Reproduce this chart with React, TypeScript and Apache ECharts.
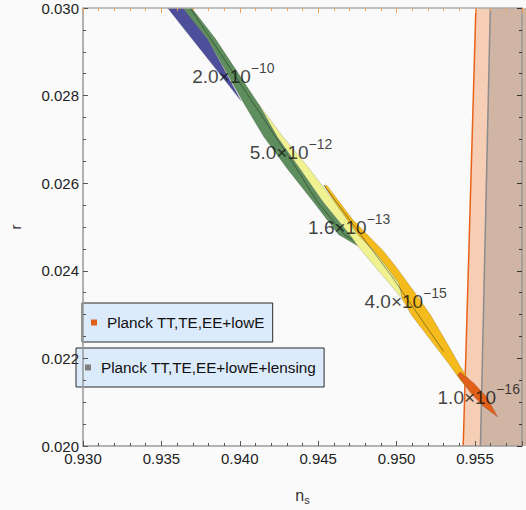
import React, { useEffect, useRef } from 'react';
import * as echarts from 'echarts';

type Pt = [number, number];

// Axis ranges
const NS_MIN = 0.93;
const NS_MAX = 0.958;
const NS_TICK = 0.005;
const NS_MINOR = 0.001;
const R_MIN = 0.02;
const R_MAX = 0.03;
const R_TICK = 0.002;

// Contour regions (n_s, r)
const blueRegion: Pt[] = [
  [0.93515, 0.03011], [0.94008, 0.02788], [0.93795, 0.02929], [0.93614, 0.03011],
];
const greenRegion: Pt[] = [
  [0.93614, 0.03011], [0.93795, 0.02929], [0.94029, 0.0278], [0.94153, 0.02706], [0.94305, 0.02632],
  [0.9447, 0.02557], [0.94629, 0.02483], [0.94751, 0.02457],
  [0.947, 0.02483], [0.94531, 0.02557], [0.94385, 0.02632], [0.94238, 0.02706], [0.94121, 0.0278],
  [0.93846, 0.02929], [0.9367, 0.03011],
];
const yellowRegion: Pt[] = [
  [0.94121, 0.0278], [0.94238, 0.02706], [0.94385, 0.02632], [0.94531, 0.02557], [0.947, 0.02483],
  [0.94751, 0.02457], [0.94861, 0.0241], [0.94952, 0.02372], [0.95037, 0.02335],
  [0.95013, 0.02372], [0.94934, 0.0241], [0.94853, 0.02446], [0.94751, 0.02483], [0.94604, 0.02557],
  [0.94446, 0.02632], [0.94275, 0.02706],
];
const goldRegion: Pt[] = [
  [0.94537, 0.02595], [0.94604, 0.02557], [0.94751, 0.02483], [0.94853, 0.02446], [0.94934, 0.0241],
  [0.95013, 0.02372], [0.95037, 0.02335], [0.95097, 0.02298], [0.95257, 0.02223], [0.9533, 0.02189],
  [0.9541, 0.02149], [0.95519, 0.02105],
  [0.95544, 0.02105], [0.95471, 0.02145], [0.95404, 0.02183], [0.95341, 0.02223], [0.95219, 0.02298],
  [0.95117, 0.0235], [0.94995, 0.0241], [0.94914, 0.02446], [0.9472, 0.02517], [0.94556, 0.02595],
];
const redRegion: Pt[] = [
  [0.95407, 0.02169], [0.95492, 0.02144], [0.95577, 0.02111], [0.95645, 0.02066],
  [0.95553, 0.02091], [0.9548, 0.02118], [0.95388, 0.02162],
];
const greenContour: Pt[] = [
  [0.93663, 0.03011], [0.93816, 0.02929], [0.94365, 0.02632], [0.94495, 0.02557], [0.94665, 0.02483],
  [0.9472, 0.0247],
];
const goldContour: Pt[] = [
  [0.94537, 0.02595], [0.94964, 0.0239], [0.953, 0.02216],
];

// Planck bounds (left edges of the allowed regions)
const planckLowEEdge: Pt[] = [[0.95425, 0.02], [0.95506, 0.03]];
const planckLensingEdge: Pt[] = [[0.95535, 0.02], [0.95598, 0.03]];
const regionRight = 0.9585;

// Annotation labels
const labelNs = [0.93959, 0.94327, 0.94698, 0.95058, 0.95524];
const labelR = [0.0285, 0.02676, 0.02505, 0.02336, 0.02117];
const labelMantissa = ['2.0', '5.0', '1.6', '4.0', '1.0'];
const labelExponent = ['−10', '−12', '−13', '−15', '−16'];

const LEGEND_LOWE = 'Planck TT,TE,EE+lowE';
const LEGEND_LENS = 'Planck TT,TE,EE+lowE+lensing';

const FONT = "'Liberation Sans', Arial, sans-serif";

function bandSeries(name: string, pts: Pt[], fill: string, z: number) {
  return {
    type: 'custom',
    name,
    coordinateSystem: 'cartesian2d',
    xAxisIndex: 0,
    yAxisIndex: 0,
    clip: true,
    silent: true,
    z,
    data: [[pts[0][0], pts[0][1]]],
    renderItem: (_p: any, api: any) => ({
      type: 'polygon',
      shape: { points: pts.map((p) => api.coord(p)) },
      style: { fill, stroke: 'rgba(40,40,40,0.35)', lineWidth: 0.5 },
    }),
  };
}

function contourSeries(name: string, pts: Pt[], z: number) {
  return {
    type: 'custom',
    name,
    coordinateSystem: 'cartesian2d',
    xAxisIndex: 0,
    yAxisIndex: 0,
    clip: true,
    silent: true,
    z,
    data: [[pts[0][0], pts[0][1]]],
    renderItem: (_p: any, api: any) => ({
      type: 'polyline',
      shape: { points: pts.map((p) => api.coord(p)) },
      style: { fill: null, stroke: 'rgba(30,40,30,0.6)', lineWidth: 0.8 },
    }),
  };
}

function regionSeries(name: string, edge: Pt[], fill: string, stroke: string, legendColor: string, z: number) {
  return {
    type: 'custom',
    name,
    coordinateSystem: 'cartesian2d',
    xAxisIndex: 0,
    yAxisIndex: 0,
    clip: false,
    silent: true,
    z,
    itemStyle: { color: legendColor },
    data: [[edge[0][0], edge[0][1]]],
    renderItem: (_p: any, api: any) => {
      const poly: Pt[] = [edge[0], edge[1], [regionRight, edge[1][1]], [regionRight, edge[0][1]]];
      return {
        type: 'group',
        children: [
          {
            type: 'polygon',
            shape: { points: poly.map((p) => api.coord(p)) },
            style: { fill, stroke: null },
          },
          {
            type: 'polyline',
            shape: { points: edge.map((p) => api.coord(p)) },
            style: { fill: null, stroke, lineWidth: 1.5 },
          },
        ],
      };
    },
  };
}

const isMultiple = (v: number, step: number) => Math.abs(v / step - Math.round(v / step)) < 1e-6;

export default function App() {
  const ref = useRef<HTMLDivElement>(null);

  useEffect(() => {
    if (!ref.current) return;
    const chart = echarts.init(ref.current, null, { renderer: 'svg' });

    const majorX = (position: string, tickColor: string, lineColor: string, showLabel: boolean) => ({
      type: 'value',
      position,
      min: NS_MIN,
      max: NS_MAX,
      interval: NS_TICK,
      z: 10,
      axisLine: { show: true, onZero: false, lineStyle: { color: lineColor, width: 1.5 } },
      axisTick: { show: true, inside: true, length: 5, lineStyle: { color: tickColor, width: 1 } },
      minorTick: { show: false },
      splitLine: { show: false },
      axisLabel: {
        show: showLabel,
        margin: 5,
        fontSize: 15,
        color: '#222',
        fontFamily: FONT,
        formatter: (v: number) => (isMultiple(v, NS_TICK) ? v.toFixed(3) : ''),
      },
    });
    const minorX = (position: string, tickColor: string) => ({
      type: 'value',
      position,
      min: NS_MIN,
      max: NS_MAX,
      interval: NS_MINOR,
      z: 10,
      axisLine: { show: false, onZero: false },
      axisTick: { show: true, inside: true, length: 3, lineStyle: { color: tickColor, width: 1 } },
      splitLine: { show: false },
      axisLabel: { show: false },
    });

    const option: any = {
      animation: false,
      backgroundColor: '#fafafa',
      textStyle: { fontFamily: FONT },
      grid: { left: 63, right: 4, top: 8, bottom: 53, containLabel: false },
      xAxis: [
        {
          ...majorX('bottom', '#555', '#999', true),
          name: '{n|n}{s|s}',
          nameLocation: 'middle',
          nameGap: 41,
          nameTextStyle: {
            rich: {
              n: { fontSize: 16, lineHeight: 18, verticalAlign: 'top', color: '#333', fontFamily: FONT },
              s: { fontSize: 11, lineHeight: 12, verticalAlign: 'bottom', color: '#333', fontFamily: FONT },
            },
          },
        },
        majorX('top', '#f0a050', '#aaa', false),
        minorX('bottom', '#555'),
        minorX('top', '#f0a050'),
      ],
      yAxis: [
        {
          type: 'value',
          position: 'left',
          min: R_MIN,
          max: R_MAX,
          interval: R_TICK,
          z: 10,
          axisLine: { show: true, onZero: false, lineStyle: { color: '#999', width: 1.5 } },
          axisTick: { show: true, inside: true, length: 5, lineStyle: { color: '#555' } },
          minorTick: { show: true, splitNumber: 4, length: 3, lineStyle: { color: '#555' } },
          splitLine: { show: false },
          axisLabel: {
            margin: 4,
            fontSize: 15,
            color: '#222',
            fontFamily: FONT,
            formatter: (v: number) => v.toFixed(3),
          },
          name: 'r',
          nameLocation: 'middle',
          nameRotate: 90,
          nameGap: 60,
          nameTextStyle: { fontSize: 15, color: '#333', fontFamily: FONT },
        },
        {
          type: 'value',
          position: 'right',
          min: R_MIN,
          max: R_MAX,
          interval: R_TICK,
          z: 10,
          axisLine: { show: true, onZero: false, lineStyle: { color: '#999', width: 1.5 } },
          axisTick: { show: true, inside: true, length: 5, lineStyle: { color: '#333' } },
          minorTick: { show: true, splitNumber: 4, length: 3, lineStyle: { color: '#333' } },
          splitLine: { show: false },
          axisLabel: { show: false },
        },
      ],
      legend: [
        {
          data: [LEGEND_LOWE],
          left: 82,
          top: 303,
          icon: 'rect',
          itemWidth: 6,
          itemHeight: 6,
          selectedMode: false,
          backgroundColor: '#dcebfb',
          borderColor: '#2a2a2a',
          borderWidth: 1,
          padding: [10, 8, 10, 9],
          textStyle: { fontSize: 15.3, color: '#111', fontFamily: FONT, lineHeight: 19, padding: [0, 0, 0, 5] },
        },
        {
          data: [LEGEND_LENS],
          left: 76,
          top: 348,
          icon: 'rect',
          itemWidth: 6,
          itemHeight: 6,
          selectedMode: false,
          backgroundColor: '#dcebfb',
          borderColor: '#2a2a2a',
          borderWidth: 1,
          padding: [10, 8, 10, 9],
          textStyle: { fontSize: 15.3, color: '#111', fontFamily: FONT, lineHeight: 19, padding: [0, 0, 0, 5] },
        },
      ],
      series: [
        regionSeries(LEGEND_LOWE, planckLowEEdge, '#f6cdb5', '#e8621a', '#e0601a', 1),
        regionSeries(LEGEND_LENS, planckLensingEdge, '#d0b4a4', '#8c8c8c', '#7f7f7f', 2),
        bandSeries('blue', blueRegion, '#4d4f9b', 3),
        bandSeries('gold', goldRegion, '#f5bb1c', 3),
        bandSeries('yellow', yellowRegion, '#f0f292', 4),
        bandSeries('green', greenRegion, '#5e8d5e', 5),
        bandSeries('red', redRegion, '#e0601a', 6),
        contourSeries('greenLine', greenContour, 7),
        contourSeries('goldLine', goldContour, 7),
        {
          type: 'scatter',
          name: 'labels',
          silent: true,
          symbolSize: 0,
          z: 20,
          data: labelNs.map((x, i) => [x, labelR[i], i]),
          label: {
            show: true,
            position: 'inside',
            formatter: (p: any) => {
              const i = p.data[2];
              return `{m|${labelMantissa[i]}×10}{e|${labelExponent[i]}}`;
            },
            rich: {
              m: { fontSize: 19, lineHeight: 25, verticalAlign: 'bottom', color: '#111', fontFamily: FONT },
              e: { fontSize: 14, lineHeight: 14, verticalAlign: 'top', color: '#111', fontFamily: FONT },
            },
          },
        },
      ],
    };

    chart.setOption(option);
    return () => chart.dispose();
  }, []);

  return (
    <div
      ref={ref}
      style={{ position: 'fixed', left: 0, top: 0, width: 526, height: 510 }}
    />
  );
}
